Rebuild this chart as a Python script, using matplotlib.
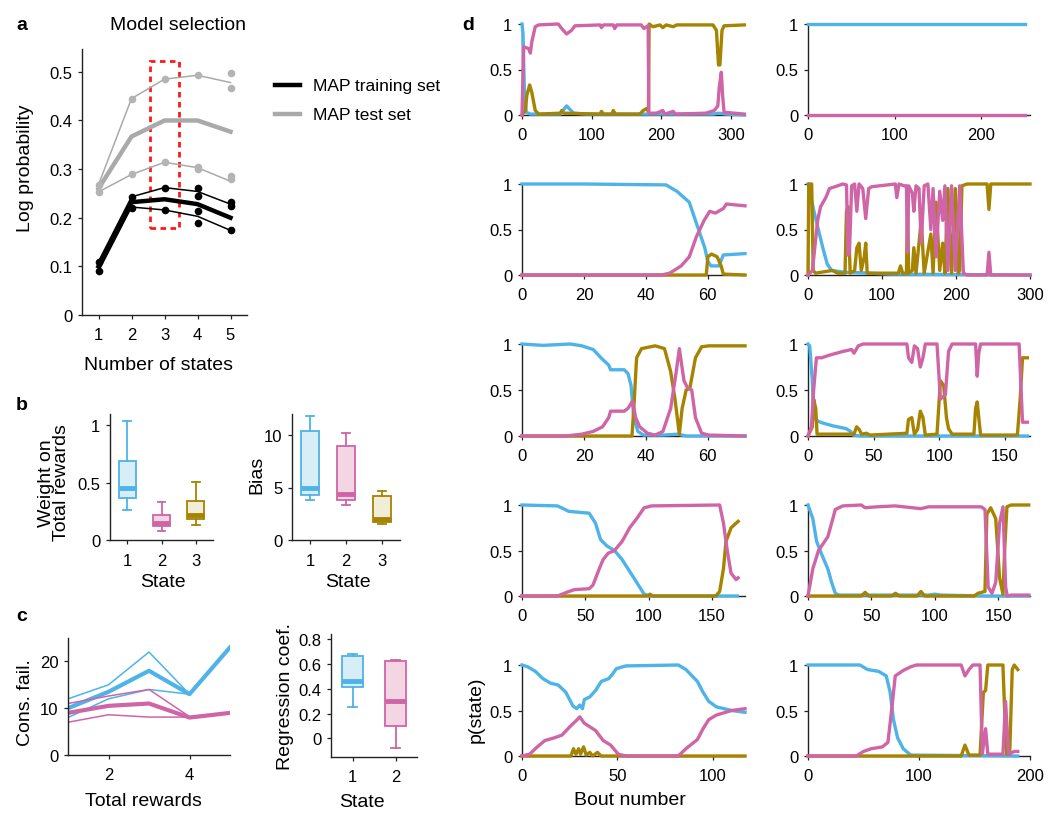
import matplotlib
matplotlib.use("Agg")
import matplotlib.pyplot as plt
from matplotlib.patches import Rectangle
from matplotlib.lines import Line2D

plt.rcParams['font.family'] = ['Liberation Sans', 'DejaVu Sans']

BLUE = '#4DB3E8'
PINK = '#CF65A6'
GOLD = '#A68300'
BLUE_L = '#D8EEF6'
PINK_L = '#F4D5E4'
GOLD_L = '#F2EDD8'

# ---- panel a: model selection ----
a_states = [1, 2, 3, 4, 5]
a_train_mean = [0.10, 0.232, 0.238, 0.228, 0.200]
a_train_hi = [0.11, 0.243, 0.262, 0.254, 0.228]
a_train_lo = [0.09, 0.222, 0.216, 0.203, 0.174]
a_train_dot_x = [1, 1, 2, 2, 3, 3, 4, 4, 4, 4, 5, 5, 5]
a_train_dot_y = [0.11, 0.09, 0.243, 0.22, 0.262, 0.216, 0.262, 0.245, 0.213, 0.19, 0.233, 0.225, 0.174]
a_test_mean = [0.260, 0.367, 0.400, 0.400, 0.377]
a_test_hi = [0.268, 0.445, 0.485, 0.493, 0.478]
a_test_lo = [0.253, 0.289, 0.314, 0.303, 0.275]
a_test_dot_x = [1, 1, 2, 2, 3, 3, 4, 4, 4, 5, 5, 5, 5]
a_test_dot_y = [0.268, 0.253, 0.445, 0.289, 0.485, 0.314, 0.493, 0.305, 0.300, 0.498, 0.467, 0.285, 0.280]
a_legend = ['MAP training set', 'MAP test set']

# ---- panel b: box plots ----
b_states = [1, 2, 3]
b_weight_whislo = [0.26, 0.08, 0.13]
b_weight_q1 = [0.37, 0.12, 0.18]
b_weight_med = [0.45, 0.15, 0.22]
b_weight_q3 = [0.69, 0.22, 0.34]
b_weight_whishi = [1.04, 0.33, 0.51]
b_bias_whislo = [3.8, 3.3, 1.5]
b_bias_q1 = [4.3, 3.8, 1.7]
b_bias_med = [5.0, 4.4, 2.0]
b_bias_q3 = [10.4, 9.0, 4.2]
b_bias_whishi = [11.8, 10.2, 4.7]

# ---- panel c ----
c_rewards = [1, 2, 3, 4, 5]
c_blue_mean = [10, 13.5, 18, 13, 23]
c_blue_a = [12, 15, 22, 13, 23]
c_blue_b = [8, 12, 14, 13, 23]
c_pink_mean = [9, 10.5, 11, 8, 9]
c_pink_a = [11, 12.6, 14, 8.2, 9]
c_pink_b = [7, 8.6, 8.1, 8.1, 9]
c_states = [1, 2]
c_reg_whislo = [0.25, -0.08]
c_reg_q1 = [0.41, 0.10]
c_reg_med = [0.46, 0.30]
c_reg_q3 = [0.66, 0.62]
c_reg_whishi = [0.68, 0.63]

# ---- panel d: p(state) traces, (bout, p) pairs ----
d1L_blue = [(0, 1.0), (1.4, 0.9), (3.3, 0.3), (6, 0.03), (12, 0.01), (55, 0.01), (60, 0.06), (64, 0.1), (69, 0.06),
            (74, 0.02), (93, 0.01), (274, 0.01), (283, 0.02), (293, 0.01), (319, 0.0)]
d1L_pink = [(0, 0), (2.4, 0.75), (9.5, 0.73), (12, 0.68), (14, 0.8), (19, 0.97), (24, 0.99), (52, 1.0), (57, 0.95),
            (64, 0.89), (71, 0.93), (76, 0.98), (112, 0.99), (114, 0.96), (117, 0.99), (131, 0.99), (133, 0.95),
            (136, 0.99), (171, 0.99), (175, 0.95), (178.5, 0.97), (181, 0.98), (182, 0.02), (193, 0.02), (202, 0.05),
            (205, 0.01), (217, 0.04), (220, 0.01), (264, 0.02), (276, 0.05), (281, 0.1), (283, 0.3), (286, 0.47),
            (288, 0.2), (290, 0.03), (319, 0.01)]
d1L_gold = [(0, 0), (4.8, 0.05), (7, 0.22), (11, 0.33), (14, 0.25), (19, 0.05), (24, 0.01), (55, 0.02), (57, 0.05),
            (60, 0.02), (112, 0.01), (114, 0.04), (117, 0.01), (129, 0.01), (131, 0.05), (134, 0.01), (169, 0.01),
            (174, 0.05), (178.5, 0.07), (181.4, 0.04), (182.4, 1.0), (188, 0.97), (198, 0.99), (202, 0.96),
            (207, 0.99), (217, 0.97), (222, 0.99), (274, 0.99), (279, 0.93), (282, 0.55), (284, 0.55), (287, 0.93),
            (290, 0.98), (319, 0.99)]
d1R_blue = [(0, 1.0), (250, 1.0)]
d1R_pink = [(0, 0.0), (250, 0.0)]
d1R_gold = []  # hidden under the pink trace

d2L_blue = [(0, 1.0), (20, 1.0), (46.5, 0.99), (50, 0.92), (54, 0.8), (56, 0.6), (59, 0.3), (60, 0.15), (61, 0.1),
            (63.6, 0.1), (65, 0.22), (72, 0.235)]
d2L_pink = [(0, 0), (45, 0), (47.7, 0.02), (51.4, 0.1), (54, 0.2), (56.3, 0.42), (58.8, 0.6), (60.6, 0.7),
            (62.4, 0.68), (65, 0.73), (66, 0.78), (72, 0.76)]
d2L_gold = [(0, 0), (59.5, 0), (60, 0.2), (61.2, 0.23), (63, 0.2), (64.3, 0.1), (65, 0.01), (72, 0)]
d2R_blue = [(0, 1.0), (3, 0.9), (8, 0.7), (14, 0.5), (20, 0.3), (26, 0.12), (32, 0.05), (50, 0.03), (85, 0.02),
            (110, 0.01), (300, 0.0)]
d2R_pink = [(0, 0), (6, 0.05), (13, 0.6), (17, 0.75), (24, 0.85), (29, 0.95), (40, 0.98), (47, 1.0), (52, 0.99),
            (54, 0.22), (56, 0.25), (59, 0.98), (63, 1.0), (66, 0.7), (69, 1.0), (74, 0.95), (78, 0.62), (82, 0.95),
            (86, 0.97), (118, 1.0), (120, 0.85), (123, 1.0), (130, 0.98), (133, 0.98), (134.5, 0.25), (136, 0.98),
            (141, 0.9), (143, 0.7), (146, 0.98), (150, 0.95), (153, 0.35), (157, 0.98), (162, 1.0), (166, 0.5),
            (169, 0.95), (173, 0.2), (178, 0.92), (182, 0.6), (185, 0.98), (189, 0.05), (194, 0.98), (199, 0.05),
            (205, 0.98), (210, 0.02), (215, 0.0), (242, 0.0), (244.5, 0.25), (247, 0.0), (300, 0.0)]
d2R_gold = [(0, 0), (1, 1.0), (5, 1.0), (7, 0.05), (10, 0.02), (33, 0.05), (40, 0.02), (50, 0.02), (52, 0.7),
            (54, 0.75), (57, 0.02), (63, 0.05), (66, 0.3), (69, 0.35), (72, 0.05), (76, 0.2), (78, 0.35), (80, 0.02),
            (122, 0.02), (125, 0.1), (128, 0.02), (133, 0.02), (134.5, 0.75), (136, 0.02), (141, 0.05), (143, 0.3),
            (146, 0.02), (153, 0.6), (157, 0.02), (166, 0.45), (169, 0.02), (173, 0.8), (178, 0.05), (182, 0.35),
            (185, 0.02), (189, 0.95), (194, 0.02), (199, 0.95), (203, 0.02), (205, 0.05), (208, 0.98), (215, 1.0),
            (242, 1.0), (244.5, 0.72), (247, 1.0), (300, 1.0)]

d3L_blue = [(0, 1.0), (4.4, 0.99), (6.8, 0.985), (15.6, 1.0), (19.3, 0.98), (23, 0.94), (25.5, 0.85), (28, 0.77),
            (28.6, 0.72), (33, 0.72), (34.2, 0.68), (35.2, 0.55), (36.1, 0.2), (37.4, 0.05), (39.2, 0.01),
            (45.5, 0.01), (50.4, 0.02), (53, 0.0), (72, 0.0)]
d3L_pink = [(0, 0), (14.3, 0), (19.3, 0.02), (23, 0.05), (26, 0.1), (28, 0.2), (28.6, 0.27), (33, 0.27), (34.2, 0.3),
            (35.7, 0.38), (36.7, 0.2), (38, 0.1), (40.5, 0.03), (43, 0.01), (45.5, 0.05), (48, 0.3), (49.8, 0.7),
            (50.8, 0.95), (52.3, 0.6), (53.5, 0.52), (54.8, 0.5), (56, 0.2), (58, 0.03), (60.4, 0.01), (72, 0)]
d3L_gold = [(0, 0), (35.5, 0), (36.1, 0.3), (37, 0.85), (38.6, 0.95), (43, 0.98), (46, 0.95), (48, 0.7), (49.4, 0.4),
            (50.8, 0.02), (51.7, 0.3), (53, 0.5), (54.2, 0.52), (56, 0.85), (58, 0.97), (60.4, 0.98), (72, 0.98)]
d3R_blue = [(0, 1.0), (1.3, 0.98), (3.3, 0.6), (4.3, 0.2), (7.7, 0.16), (11.5, 0.14), (19, 0.11), (29, 0.08),
            (32.4, 0.05), (34.4, 0.01), (40, 0.0), (167, 0.0)]
d3R_pink = [(0, 0), (2.6, 0.1), (4.3, 0.5), (6.4, 0.85), (10.2, 0.85), (16.6, 0.88), (26.8, 0.92), (33.2, 0.94),
            (35, 0.9), (38.3, 0.98), (42, 1.0), (75.3, 1.0), (76.5, 0.85), (79, 0.8), (81, 0.98), (83.4, 0.95),
            (85.5, 0.75), (87.5, 0.85), (89.3, 1.0), (98.2, 1.0), (100.8, 0.4), (104.6, 0.45), (107, 0.92),
            (109.7, 1.0), (127.6, 1.0), (128.8, 0.65), (130, 0.9), (131.4, 1.0), (160.7, 1.0), (163.3, 0.15),
            (167, 0.15)]
d3R_gold = [(0, 0), (3.3, 0.1), (4.3, 0.4), (5.9, 0.3), (6.9, 0.02), (35, 0.02), (37, 0.1), (39, 0.07), (40.8, 0.02),
            (44.6, 0.03), (47, 0.01), (75.3, 0.03), (76.5, 0.18), (79, 0.2), (81, 0.02), (83.4, 0.07), (85.5, 0.27),
            (87.5, 0.2), (89.3, 0.01), (98.2, 0.02), (100.8, 0.6), (103.3, 0.55), (105.4, 0.2), (107, 0.08),
            (109.7, 0.02), (126.3, 0.02), (127.6, 0.3), (128.8, 0.37), (130, 0.2), (131.4, 0.01), (159.4, 0.01),
            (161.5, 0.4), (163.3, 0.85), (167, 0.85)]

d4L_blue = [(0, 1.0), (28, 0.99), (37, 0.93), (53, 0.91), (58, 0.8), (62, 0.62), (67, 0.55), (73, 0.5), (79, 0.4),
            (85, 0.27), (90.5, 0.15), (96.4, 0.02), (101, 0.0), (170, 0.0)]
d4L_pink = [(0, 0), (28, 0), (37, 0.05), (41.5, 0.07), (53, 0.08), (56, 0.12), (61, 0.3), (64, 0.4), (68, 0.47),
            (73, 0.5), (79, 0.6), (85, 0.75), (90.5, 0.85), (96.4, 0.97), (99.4, 0.98), (102, 0.99), (156, 1.0),
            (159, 0.8), (162, 0.5), (165, 0.25), (169, 0.18), (170.6, 0.2)]
d4L_gold = [(0, 0), (99, 0), (101, 0.02), (103, 0), (153, 0), (156, 0.05), (159, 0.3), (161, 0.6), (165, 0.75),
            (169, 0.8), (170.6, 0.82)]
d4R_blue = [(0, 1.0), (3.8, 0.85), (6.8, 0.6), (11, 0.45), (15.6, 0.3), (18.6, 0.15), (21.5, 0.03), (24.5, 0.01),
            (95, 0.01), (100, 0.02), (105, 0.01), (140, 0.0), (174, 0.0)]
d4R_pink = [(0, 0), (3.8, 0.3), (8.3, 0.5), (15.6, 0.65), (18.6, 0.8), (21.5, 0.95), (27.4, 0.99), (42, 1.0),
            (45, 0.97), (54, 0.98), (68.7, 0.99), (89, 0.96), (95, 0.98), (136.6, 0.98), (139.5, 0.95), (142, 0.1),
            (145, 0.03), (148, 0.15), (151, 0.8), (153.7, 0.98), (155.8, 0.1), (157, 0.0), (160, 0.01), (174, 0.01)]
d4R_gold = [(0, 0), (42, 0.0), (45, 0.04), (48, 0.0), (66, 0.0), (69, 0.03), (72, 0.0), (86, 0.0), (89, 0.05),
            (92, 0.0), (131, 0.0), (134, 0.03), (139.5, 0.05), (141, 0.9), (144, 0.97), (148, 0.85), (151, 0.2),
            (153.7, 0.02), (155, 0.5), (156.8, 0.98), (160, 1.0), (174, 1.0)]

d5L_blue = [(0, 1.0), (3, 0.98), (7, 0.93), (11, 0.85), (15, 0.8), (19, 0.78), (23, 0.7), (26.7, 0.55), (28.7, 0.52),
            (30.3, 0.56), (31.7, 0.52), (32.7, 0.62), (35.6, 0.65), (38.6, 0.72), (41.6, 0.82), (45.5, 0.85),
            (47.5, 0.9), (49.5, 0.96), (54.5, 0.99), (82, 1.0), (86, 0.95), (92, 0.82), (95, 0.7), (98, 0.6),
            (102, 0.54), (110, 0.5), (117, 0.48)]
d5L_pink = [(0, 0), (4, 0.02), (8, 0.1), (12, 0.17), (17, 0.2), (21, 0.23), (25, 0.32), (29, 0.4), (30.3, 0.43),
            (32.7, 0.36), (38.6, 0.28), (42.6, 0.17), (46.5, 0.12), (50.5, 0.02), (54.5, 0.0), (82, 0.0), (86, 0.08),
            (92, 0.18), (95, 0.3), (98, 0.4), (102, 0.45), (110, 0.5), (117, 0.52)]
d5L_gold = [(0, 0), (25.7, 0), (27, 0.08), (28.3, 0.02), (29.7, 0.08), (30.7, 0.02), (32.3, 0.1), (33.7, 0.01),
            (35.6, 0.04), (37, 0.0), (39.6, 0.04), (41.5, 0.0), (117, 0)]
d5R_blue = [(0, 1.0), (46.8, 1.0), (53.6, 0.95), (63.7, 0.93), (70.5, 0.88), (74, 0.7), (77, 0.4), (80.7, 0.2),
            (85.8, 0.08), (92.5, 0.01), (189, 0.0)]
d5R_pink = [(0, 0), (43.4, 0), (50, 0.05), (57, 0.08), (67, 0.1), (72, 0.15), (75.3, 0.5), (78.6, 0.88), (85.8, 0.94),
            (92.5, 0.98), (97.6, 1.0), (138, 1.0), (141.4, 0.88), (145, 0.95), (148.5, 1.0), (155, 1.0), (157, 0.02),
            (160, 0.3), (162, 0.02), (175.6, 0.02), (178, 0.6), (180.7, 0.02), (185.8, 0.05), (189, 0.05)]
d5R_gold = [(0, 0), (138, 0), (141.4, 0.12), (145, 0.01), (155, 0.01), (158, 0.7), (160, 0.72), (162, 1.0),
            (175.6, 1.0), (177, 0.55), (179, 0.02), (181.7, 0.02), (184, 0.95), (185.8, 1.0), (189, 0.95)]

d_xlims = [320, 256, 72, 300, 72, 169, 176, 175, 117, 200]
d_xticks = [[0, 100, 200, 300], [0, 100, 200], [0, 20, 40, 60], [0, 100, 200, 300], [0, 20, 40, 60],
            [0, 50, 100, 150], [0, 50, 100, 150], [0, 50, 100, 150], [0, 50, 100], [0, 100, 200]]
d_traces = [(d1L_blue, d1L_gold, d1L_pink), (d1R_blue, d1R_gold, d1R_pink),
            (d2L_blue, d2L_gold, d2L_pink), (d2R_blue, d2R_gold, d2R_pink),
            (d3L_blue, d3L_gold, d3L_pink), (d3R_blue, d3R_gold, d3R_pink),
            (d4L_blue, d4L_gold, d4L_pink), (d4R_blue, d4R_gold, d4R_pink),
            (d5L_blue, d5L_gold, d5L_pink), (d5R_blue, d5R_gold, d5R_pink)]

W, H = 1050, 820
FS = 14      # axis labels / titles
TFS = 12     # tick labels


def pos(l, t, r, b):
    return [l / W, 1 - b / H, (r - l) / W, (b - t) / H]


def ftext(x, y, s, ha='center', **kw):
    kw.setdefault('fontsize', FS)
    fig.text(x / W, 1 - y / H, s, ha=ha, va='center', **kw)


def style(ax):
    for side in ['top', 'right']:
        ax.spines[side].set_visible(False)
    for side in ['left', 'bottom']:
        ax.spines[side].set_linewidth(1.0)
        ax.spines[side].set_color('#222222')
    ax.tick_params(direction='out', length=3, width=0.9, labelsize=TFS, colors='#222222',
                   labelcolor='black')
    ax.tick_params(axis='x', pad=6)
    ax.tick_params(axis='y', pad=4)


def boxes(ax, xs, lo, q1, med, q3, hi, cols, fills):
    for i in range(len(xs)):
        st = dict(whislo=lo[i], q1=q1[i], med=med[i], q3=q3[i], whishi=hi[i], fliers=[])
        ax.bxp([st], positions=[xs[i]], widths=0.5, patch_artist=True, showfliers=False,
               boxprops=dict(facecolor=fills[i], edgecolor=cols[i], linewidth=1.3),
               medianprops=dict(color=cols[i], linewidth=3.5, solid_capstyle='butt'),
               whiskerprops=dict(color=cols[i], linewidth=1.3),
               capprops=dict(color=cols[i], linewidth=1.3), capwidths=0.22)


fig = plt.figure(figsize=(10.5, 8.2), dpi=100)

# ---------------- a ----------------
ax = fig.add_axes(pos(82, 50, 247, 316))
style(ax)
ax.plot(a_states, a_test_hi, color='#AAAAAA', lw=1.1)
ax.plot(a_states, a_test_lo, color='#AAAAAA', lw=1.1)
ax.plot(a_states, a_test_mean, color='#AAAAAA', lw=3.2)
ax.plot(a_test_dot_x, a_test_dot_y, 'o', color='#B4B4B4', ms=5.5, mec='none')
ax.plot(a_states, a_train_hi, color='black', lw=1.1)
ax.plot(a_states, a_train_lo, color='black', lw=1.1)
ax.plot(a_states, a_train_mean, color='black', lw=3.2)
ax.plot(a_train_dot_x, a_train_dot_y, 'o', color='black', ms=5.5, mec='none')
ax.add_patch(Rectangle((2.55, 0.178), 0.9, 0.344, fill=False, edgecolor='#FF1A1A', lw=2.0,
                       ls=(0, (2, 1.6))))
ax.set_xlim(0.5, 5.5)
ax.set_ylim(0, 0.547)
ax.set_xticks(a_states)
ax.set_yticks([0, 0.1, 0.2, 0.3, 0.4, 0.5])
ax.set_yticklabels(['0', '0.1', '0.2', '0.3', '0.4', '0.5'])
ftext(22, 25, 'a', fontweight='bold')
ftext(178, 25, 'Model selection')
ftext(25, 168, 'Log probability', rotation=90)
ftext(158, 366, 'Number of states')
for yy, c, lab in [(86, 'black', a_legend[0]), (115, '#AAAAAA', a_legend[1])]:
    fig.add_artist(Line2D([275 / W, 300 / W], [1 - yy / H, 1 - yy / H], color=c, lw=3.2))
    ftext(313, yy, lab, ha='left', fontsize=TFS + 0.5)

# ---------------- b ----------------
ax = fig.add_axes(pos(110, 415, 213, 541))
style(ax)
boxes(ax, b_states, b_weight_whislo, b_weight_q1, b_weight_med, b_weight_q3, b_weight_whishi,
      [BLUE, PINK, GOLD], [BLUE_L, PINK_L, GOLD_L])
ax.set_xlim(0.5, 3.5)
ax.set_ylim(0, 1.1)
ax.set_xticks(b_states)
ax.set_xticklabels([str(s) for s in b_states])
ax.set_yticks([0, 0.5, 1])
ax.set_yticklabels(['0', '0.5', '1'])

ax = fig.add_axes(pos(292, 415, 400, 541))
style(ax)
boxes(ax, b_states, b_bias_whislo, b_bias_q1, b_bias_med, b_bias_q3, b_bias_whishi,
      [BLUE, PINK, GOLD], [BLUE_L, PINK_L, GOLD_L])
ax.set_xlim(0.5, 3.5)
ax.set_ylim(0, 12)
ax.set_xticks(b_states)
ax.set_xticklabels([str(s) for s in b_states])
ax.set_yticks([0, 5, 10])
ftext(22, 406, 'b', fontweight='bold')
ftext(54, 483, 'Weight on\nTotal rewards', rotation=90, linespacing=0.9)
ftext(257, 475, 'Bias', rotation=90)
ftext(163, 583, 'State')
ftext(348, 583, 'State')

# ---------------- c ----------------
ax = fig.add_axes(pos(68, 639, 230, 756))
style(ax)
ax.plot(c_rewards, c_blue_a, color=BLUE, lw=1.1)
ax.plot(c_rewards, c_blue_b, color=BLUE, lw=1.1)
ax.plot(c_rewards, c_blue_mean, color=BLUE, lw=3.0)
ax.plot(c_rewards, c_pink_a, color=PINK, lw=1.1)
ax.plot(c_rewards, c_pink_b, color=PINK, lw=1.1)
ax.plot(c_rewards, c_pink_mean, color=PINK, lw=3.0)
ax.set_xlim(1, 5)
ax.set_ylim(0, 25)
ax.set_xticks([2, 4])
ax.set_yticks([0, 10, 20])

ax = fig.add_axes(pos(331, 635, 417, 758))
style(ax)
boxes(ax, c_states, c_reg_whislo, c_reg_q1, c_reg_med, c_reg_q3, c_reg_whishi,
      [BLUE, PINK], [BLUE_L, PINK_L])
ax.set_xlim(0.5, 2.5)
ax.set_ylim(-0.15, 0.84)
ax.set_xticks(c_states)
ax.set_xticklabels([str(s) for s in c_states])
ax.set_yticks([0, 0.2, 0.4, 0.6, 0.8])
ax.set_yticklabels(['0', '0.2', '0.4', '0.6', '0.8'])
ftext(22, 617, 'c', fontweight='bold')
ftext(25, 703, 'Cons. fail.', rotation=90)
ftext(143, 802, 'Total rewards')
ftext(286, 697, 'Regression coef.', rotation=90)
ftext(362, 803, 'State')

# ---------------- d ----------------
rows = [(25, 116), (185, 276), (345, 437), (506, 597), (666, 757)]
cols = [(522, 745), (808, 1030)]
for k, (blue, gold, pink) in enumerate(d_traces):
    top, bot = rows[k // 2]
    l, r = cols[k % 2]
    ax = fig.add_axes(pos(l, top, r, bot))
    style(ax)
    for trace, c in [(blue, BLUE), (gold, GOLD), (pink, PINK)]:
        if trace:
            ax.plot([p[0] for p in trace], [p[1] for p in trace], color=c, lw=2.4, clip_on=False,
                    solid_joinstyle='round', zorder=3)
    ax.set_xlim(0, d_xlims[k])
    ax.set_ylim(0, 1)
    ax.set_xticks(d_xticks[k])
    ax.set_yticks([0, 0.5, 1])
    ax.set_yticklabels(['0', '0.5', '1'])
ftext(468, 25, 'd', fontweight='bold')
ftext(476, 710, 'p(state)', rotation=90)
ftext(630, 801, 'Bout number')

fig.savefig('out.png', dpi=100)
